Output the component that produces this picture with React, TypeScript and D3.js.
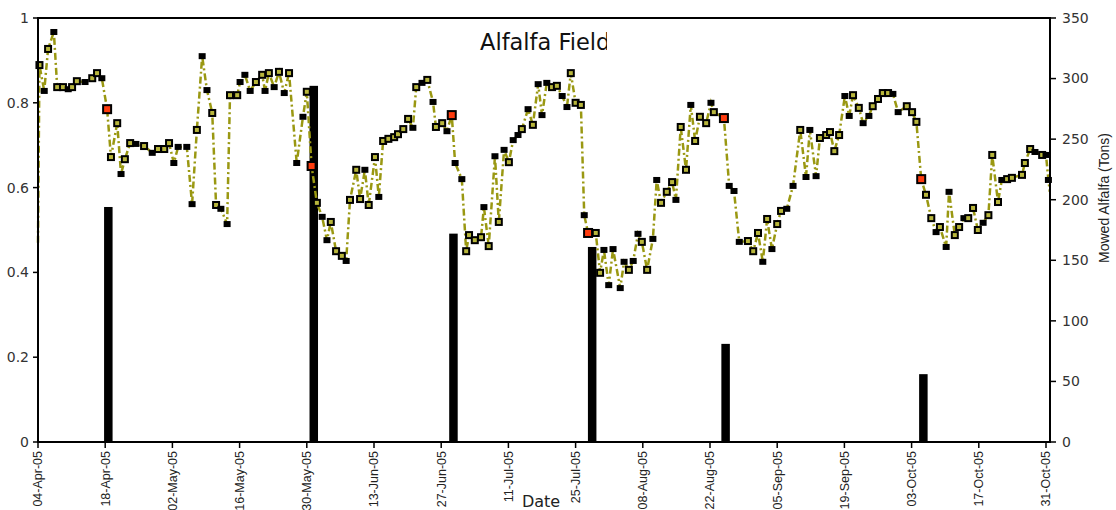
import React from 'react';
import * as d3 from 'd3';

const START = new Date(2005, 3, 4);

// observation day offsets from 04-Apr-05, the index value read off the chart, marker kind
// kind: o = hollow marker, b = solid black marker, r = cut date (red), n = no marker
const obsDay = [
  0, 0.3, 1.3, 2.1, 3.3, 4, 5.2, 6.3, 7.1, 8.1, 9.8, 11.3, 12.3, 13.3, 14.4, 15.2, 16.5, 17.3, 18.1, 19.2,
  20.4, 22.1, 23.8, 25, 26.3, 27.3, 28.3, 29.2, 31, 32.1, 33.1, 34.2, 35.2, 36.3, 37.1, 38.1, 39.4, 40, 41.5, 42.1,
  43.1, 44.2, 45.4, 46.7, 47.3, 48.1, 49.2, 50.2, 51.3, 52.3, 53.9, 55.2, 56, 57, 58.1, 59.2, 60.2, 61, 62.1, 63.3,
  64.2, 65, 66.3, 67.1, 68.1, 68.9, 70.2, 71, 71.9, 73, 74.2, 75, 76.1, 77.1, 78.1, 78.8, 80, 81.1, 82.3, 82.9,
  84.2, 85.2, 86.2, 86.9, 88.3, 89.2, 89.8, 91, 92.3, 92.9, 93.9, 95.2, 96, 97.1, 98.1, 99, 100, 100.8, 102.1, 103.1,
  104.2, 105, 106, 107.1, 108.1, 109.2, 110.2, 111, 112, 113.1, 113.8, 114.6, 116.2, 117.1, 117.9, 118.9, 119.8, 121.3, 122.1, 123.1,
  124, 125, 125.8, 126.9, 128.1, 128.9, 129.8, 131, 132.1, 132.9, 133.9, 135, 136, 136.9, 137.9, 139.2, 140.2, 140.8, 142.9, 144,
  145, 146.1, 147.9, 149, 150, 151, 151.9, 152.9, 154, 154.8, 156, 157.3, 158.8, 160, 160.8, 162.1, 162.9, 164.2, 165, 165.9,
  166.9, 168.1, 169, 169.8, 171, 171.9, 173.1, 173.9, 175, 176, 177.1, 178.1, 179.2, 181, 182.1, 183, 184, 185, 186.1, 187.1,
  187.9, 189.2, 189.8, 191, 191.9, 192.9, 193.8, 194.8, 195.8, 196.9, 198, 198.8, 200, 200.8, 201.9, 202.9, 205, 205.6, 206.7, 207.7,
  209.2, 210, 210.5, 210.8,
];
const obsValue = [
  0.47, 0.889, 0.828, 0.927, 0.967, 0.837, 0.837, 0.832, 0.837, 0.851, 0.849, 0.858, 0.87, 0.858, 0.785, 0.672, 0.752, 0.632, 0.667, 0.705,
  0.703, 0.698, 0.682, 0.691, 0.691, 0.705, 0.658, 0.696, 0.696, 0.561, 0.736, 0.91, 0.83, 0.776, 0.559, 0.55, 0.514, 0.818, 0.818, 0.849,
  0.866, 0.828, 0.849, 0.866, 0.828, 0.87, 0.837, 0.873, 0.823, 0.87, 0.658, 0.767, 0.826, 0.651, 0.564, 0.531, 0.476, 0.519, 0.45, 0.439,
  0.427, 0.571, 0.642, 0.573, 0.642, 0.559, 0.672, 0.578, 0.71, 0.715, 0.719, 0.726, 0.738, 0.762, 0.741, 0.837, 0.847, 0.854, 0.802, 0.743,
  0.752, 0.733, 0.771, 0.658, 0.62, 0.45, 0.488, 0.476, 0.483, 0.554, 0.462, 0.674, 0.519, 0.689, 0.66, 0.712, 0.724, 0.738, 0.785, 0.748,
  0.844, 0.771, 0.847, 0.837, 0.84, 0.816, 0.79, 0.87, 0.8, 0.795, 0.535, 0.493, 0.493, 0.399, 0.453, 0.37, 0.455, 0.363, 0.425, 0.406,
  0.427, 0.491, 0.472, 0.406, 0.479, 0.618, 0.564, 0.59, 0.613, 0.571, 0.743, 0.642, 0.795, 0.71, 0.767, 0.752, 0.8, 0.778, 0.764, 0.604,
  0.592, 0.472, 0.474, 0.45, 0.493, 0.425, 0.526, 0.455, 0.514, 0.545, 0.55, 0.604, 0.736, 0.625, 0.736, 0.627, 0.717, 0.724, 0.731, 0.686,
  0.724, 0.816, 0.769, 0.818, 0.788, 0.752, 0.769, 0.792, 0.809, 0.823, 0.823, 0.821, 0.778, 0.792, 0.778, 0.755, 0.62, 0.583, 0.528, 0.495,
  0.507, 0.46, 0.59, 0.488, 0.507, 0.528, 0.528, 0.552, 0.5, 0.517, 0.535, 0.677, 0.566, 0.618, 0.62, 0.623, 0.63, 0.658, 0.691, 0.684,
  0.677, 0.677, 0.618, 0.59,
];
const obsKind = [
  'n o b o b o o b o o',
  'b o o b r o o b o o',
  'b o b o o o b b b b',
  'o b b o o b b o o b',
  'b b o o b o b o b o',
  'b b o r o b b o o o',
  'b o o o b o o b o o',
  'o o o o b o b o b o',
  'o b r b b o o o o b',
  'o b o b o b b o b o',
  'b b b o o b b o o o',
  'b r o o b b b b b o',
  'b b o o b b o o o b',
  'o o b o o o b o r b',
  'b b o o o b o b o o',
  'b b o b b b o o o o',
  'o b b o o b b o o o',
  'o b b o o o r o o b',
  'o b b o o b o o o b',
  'o o o b o o o o o b',
  'o b b n',
]
  .join(' ')
  .split(' ');

// mowing events
const cutDay = [14.6, 57.4, 86.5, 115.4, 143.2, 184.4];
const cutTons = [194, 294, 172, 161, 81, 56];

const leftTicks = [0, 0.2, 0.4, 0.6, 0.8, 1];
const rightTicks = [0, 50, 100, 150, 200, 250, 300, 350];
const dayTicks = d3.range(0, 211, 14);

const OLIVE = '#9a9812';

export default function App() {
  const W = 1116;
  const H = 510;
  const x = d3.scaleLinear().domain([0, 210]).range([38, 1046]);
  const yL = d3.scaleLinear().domain([0, 1]).range([442, 18]);
  const yR = d3.scaleLinear().domain([0, 350]).range([442, 18]);
  const fmt = d3.timeFormat('%d-%b-%y');
  const tickLabel = (d: number) => fmt(d3.timeDay.offset(START, d));

  const pts = obsDay.map((d, i) => ({ d, v: obsValue[i], k: obsKind[i] || 'o' }));
  const line = d3
    .line<{ d: number; v: number }>()
    .x((p) => x(p.d))
    .y((p) => yL(p.v));

  const axisFont = 'DejaVu Sans, Verdana, sans-serif';

  return (
    <svg
      width={W}
      height={H}
      style={{ position: 'absolute', left: 0, top: 0, background: '#fff' }}
    >
      <defs>
        <clipPath id="titleClip">
          <rect x={0} y={0} width={607} height={80} />
        </clipPath>
      </defs>

      {/* frame */}
      <line x1={38} x2={1050} y1={18} y2={18} stroke="#000" strokeWidth={2} />

      {/* mowed alfalfa bars */}
      {cutDay.map((d, i) => (
        <rect
          key={'bar' + i}
          x={x(d) - 4}
          y={yR(cutTons[i])}
          width={8.5}
          height={yR(0) - yR(cutTons[i])}
          fill="#000"
        />
      ))}

      {/* index line */}
      <path
        d={line(pts) || ''}
        fill="none"
        stroke={OLIVE}
        strokeWidth={2.5}
        strokeDasharray="7,3,2,3"
      />

      {/* markers */}
      {pts.map((p, i) => {
        const cx = x(p.d);
        const cy = yL(p.v);
        if (p.k === 'n') return null;
        if (p.k === 'b')
          return <rect key={i} x={cx - 3.5} y={cy - 3} width={7} height={6} fill="#000" />;
        if (p.k === 'r')
          return (
            <g key={i}>
              <rect x={cx - 5} y={cy - 5} width={10} height={10} fill="#000" />
              <rect x={cx - 3} y={cy - 3} width={6} height={6} fill="#ff3c0f" />
            </g>
          );
        return (
          <g key={i}>
            <rect x={cx - 4} y={cy - 4} width={8} height={8} fill="#000" />
            <rect x={cx - 2} y={cy - 2} width={4} height={4} fill="#b8b63c" />
          </g>
        );
      })}

      {/* left axis */}
      <line x1={38} x2={38} y1={17} y2={443} stroke="#000" strokeWidth={2} />
      {leftTicks.map((t) => (
        <g key={'l' + t} transform={`translate(38,${yL(t)})`}>
          <line x1={-5} x2={0} stroke="#000" strokeWidth={1.5} />
          <text x={-9} dy="0.35em" textAnchor="end" fontSize={14} fontFamily={axisFont} fill="#333">
            {t}
          </text>
        </g>
      ))}

      {/* right axis */}
      <line x1={1050} x2={1050} y1={17} y2={443} stroke="#000" strokeWidth={2} />
      {rightTicks.map((t) => (
        <g key={'r' + t} transform={`translate(1050,${yR(t)})`}>
          <line x1={0} x2={6} stroke="#000" strokeWidth={1.5} />
          <text x={12} dy="0.35em" textAnchor="start" fontSize={14} fontFamily={axisFont} fill="#333">
            {t}
          </text>
        </g>
      ))}
      <text
        transform="translate(1109,198) rotate(-90)"
        textAnchor="middle"
        fontSize={14}
        fontFamily="Liberation Sans, Arial, sans-serif"
        fill="#222"
      >
        Mowed Alfalfa (Tons)
      </text>

      {/* bottom axis */}
      <line x1={37} x2={1051} y1={442} y2={442} stroke="#000" strokeWidth={2} />
      {dayTicks.map((t) => (
        <g key={'x' + t} transform={`translate(${x(t)},442)`}>
          <line y1={0} y2={6} stroke="#000" strokeWidth={1.5} />
          <text
            transform="translate(0,9) rotate(-90)"
            dy="0.35em"
            textAnchor="end"
            fontSize={12.5}
            fontFamily="Liberation Sans, Arial, sans-serif"
            fill="#222"
          >
            {tickLabel(t)}
          </text>
        </g>
      ))}
      <text x={541} y={507} textAnchor="middle" fontSize={16} fontFamily={axisFont} fill="#222">
        Date
      </text>

      {/* title */}
      <text
        x={480}
        y={50}
        fontSize={22.5}
        fontFamily={axisFont}
        fill="#111"
        clipPath="url(#titleClip)"
      >
        Alfalfa Field
      </text>
    </svg>
  );
}
